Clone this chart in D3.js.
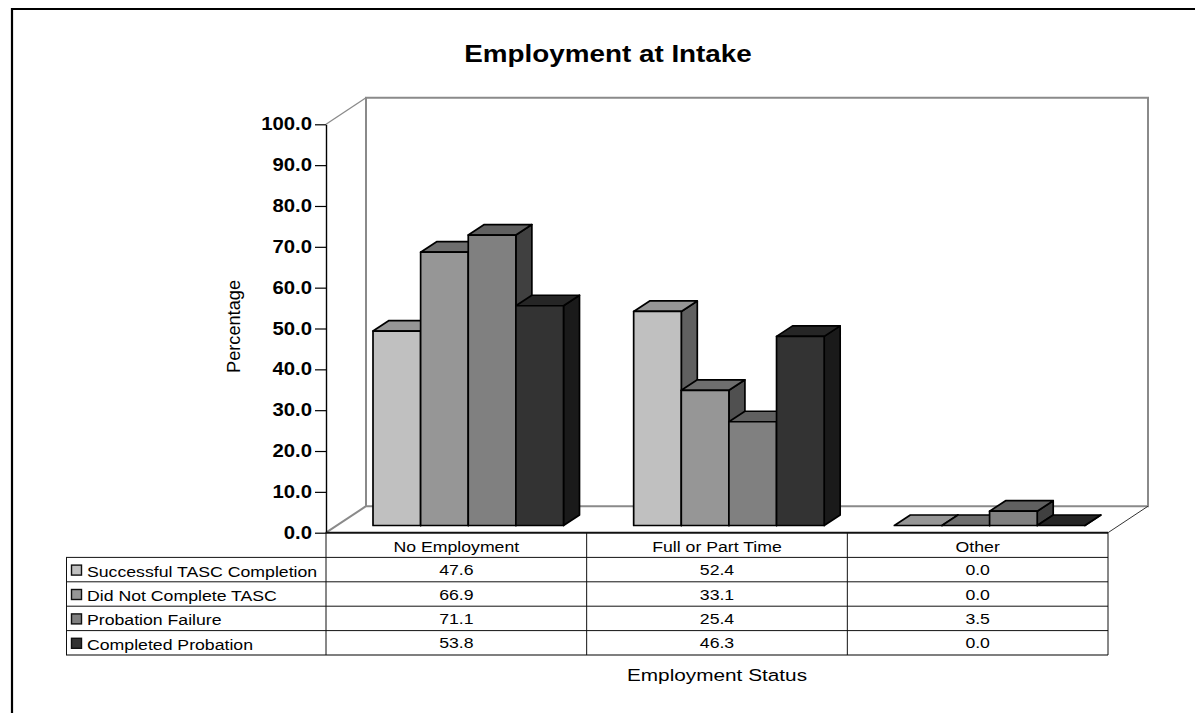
<!DOCTYPE html>
<html><head><meta charset="utf-8">
<script src="https://cdn.jsdelivr.net/npm/d3@7"></script>
<style>html,body{margin:0;background:#fff}svg{display:block}text{font-family:"Liberation Sans",Arial,sans-serif;fill:#000}</style>
</head><body><svg id="c" width="1195" height="713"></svg>
<script>
const title = "Employment at Intake";
const yTitle = "Percentage";
const xTitle = "Employment Status";
const categories = ["No Employment", "Full or Part Time", "Other"];
const seriesNames = ["Successful TASC Completion", "Did Not Complete TASC", "Probation Failure", "Completed Probation"];
const successful = [47.6, 52.4, 0.0];
const didNotComplete = [66.9, 33.1, 0.0];
const probationFailure = [71.1, 25.4, 3.5];
const completedProbation = [53.8, 46.3, 0.0];
const seriesValues = [successful, didNotComplete, probationFailure, completedProbation];
const frontColors = ["#c0c0c0", "#969696", "#808080", "#333333"];
const topColors = ["#969696", "#6e6e6e", "#606060", "#262626"];
const sideColors = ["#606060", "#505050", "#404040", "#1a1a1a"];
const yTicks = [0,10,20,30,40,50,60,70,80,90,100];

const svg = d3.select("#c");
// stretched text helper: the reference's type is wider than it is tall
function label(x, y, str, size, anchor, stretch, weight) {
  return svg.append("text").attr("transform",`translate(${x},${y}) scale(${stretch},1)`)
    .attr("text-anchor",anchor).attr("font-size",size).attr("font-weight",weight||"normal").text(str);
}
// frame
svg.append("path").attr("d","M12,713V9H1195").attr("fill","none").attr("stroke","#000").attr("stroke-width",2.2);

const x0 = d3.scaleBand().domain(categories).range([326,1108]);
const x1 = d3.scaleBand().domain(seriesNames).range([47,237.5]);
const y = d3.scaleLinear().domain([0,100]).range([532.7,124.3]);
const yBar = d3.scaleLinear().domain([0,100]).range([525.5,117]);
const depth = {dx:40, dy:-26.5}, barD = {dx:16, dy:-10.5};

// walls
const wall = svg.append("g").attr("fill","none");
wall.append("path").attr("stroke","#8a8a8a").attr("stroke-width",2)
  .attr("d",`M${326},${y(0)}L${326+depth.dx},${y(0)+depth.dy}V${y(100)+depth.dy}H${1108+depth.dx}V${y(0)+depth.dy}H${326+depth.dx}`);
wall.append("path").attr("stroke","#8a8a8a").attr("stroke-width",1.3)
  .attr("d",`M${326},${y(100)}L${326+depth.dx},${y(100)+depth.dy}`);
wall.append("path").attr("stroke","#333").attr("stroke-width",1)
  .attr("d",`M${1108},${y(0)}L${1108+depth.dx},${y(0)+depth.dy}`);

// bars
categories.forEach((c,ci)=>{
  seriesNames.forEach((s,si)=>{
    const v = seriesValues[si][ci];
    const l = x0(c)+x1(s), r = l+x1.bandwidth(), t = yBar(v), b = yBar(0);
    const g = svg.append("g").attr("stroke","#000").attr("stroke-width",1.7).attr("stroke-linejoin","round");
    g.append("path").attr("fill",sideColors[si])
      .attr("d",`M${r},${t}L${r+barD.dx},${t+barD.dy}V${b+barD.dy}L${r},${b}Z`);
    g.append("path").attr("fill",topColors[si])
      .attr("d",`M${l},${t}L${l+barD.dx},${t+barD.dy}H${r+barD.dx}L${r},${t}Z`);
    if (v>0) g.append("rect").attr("fill",frontColors[si]).attr("x",l).attr("y",t).attr("width",r-l).attr("height",b-t);
  });
});

// y axis
const tickStretch = 1.16;
const axis = svg.append("g").attr("transform","translate(326,0)")
  .call(d3.axisLeft(y).tickValues(yTicks).tickFormat(d3.format(".1f")).tickSize(11).tickPadding(2).tickSizeOuter(0));
axis.select(".domain").attr("stroke","#000").attr("stroke-width",1.4);
axis.selectAll(".tick line").attr("stroke","#000").attr("stroke-width",1.2);
axis.selectAll("text").attr("font-size",17.5).attr("font-weight","bold").attr("font-family","Liberation Sans").attr("fill","#000")
  .attr("x",-14/tickStretch).attr("transform",`scale(${tickStretch},1)`);

// table
const tableFont = 14.5, tableStretch = 1.22;
const rowTops = d3.scaleBand().domain(["head",...seriesNames]).range([533,655]);
const grid = svg.append("g").attr("stroke","#111").attr("stroke-width",1).attr("fill","none");
grid.append("path").attr("stroke-width",2).attr("d",`M326,${y(0)}H1108`);
seriesNames.forEach(s=>{
  grid.append("path").attr("d",`M66,${rowTops(s)}H1108`);
});
grid.append("path").attr("d",`M66,655H1108`).attr("stroke","#555").attr("stroke-width",1.4);
grid.append("path").attr("d",`M66.5,${rowTops(seriesNames[0])}V655`);
grid.append("path").attr("d",`M326,532V655`);
categories.forEach(c=>{
  grid.append("path").attr("d",`M${x0(c)+x0.bandwidth()},533V655`);
  label(x0(c)+x0.bandwidth()/2, rowTops("head")+rowTops.bandwidth()/2+6.5, c, tableFont, "middle", tableStretch);
});
seriesNames.forEach((s,si)=>{
  const cy = rowTops(s)+rowTops.bandwidth()/2;
  svg.append("rect").attr("x",71.5).attr("y",cy-4.5).attr("width",10).attr("height",10)
    .attr("fill",frontColors[si]).attr("stroke","#111").attr("stroke-width",1.4);
  label(87, cy+7, s, tableFont, "start", tableStretch);
  categories.forEach((c,ci)=>{
    label(x0(c)+x0.bandwidth()/2, cy+5.5, d3.format(".1f")(seriesValues[si][ci]), tableFont, "middle", tableStretch);
  });
});

// titles
label(608, 61.5, title, 23.3, "middle", 1.195, "bold");
svg.append("text").attr("transform","translate(240,326.5) rotate(-90)").attr("text-anchor","middle").attr("font-size",18).attr("textLength",93).attr("lengthAdjust","spacingAndGlyphs").text(yTitle);
label(717, 681, xTitle, 16.5, "middle", 1.26);
</script></body></html>
